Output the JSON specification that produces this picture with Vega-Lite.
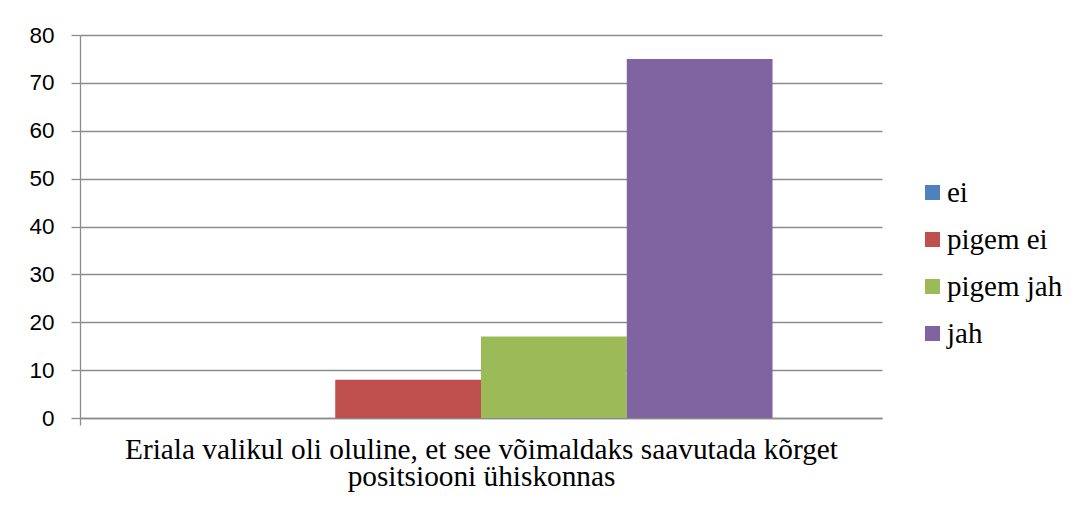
{
  "$schema": "https://vega.github.io/schema/vega-lite/v6.json",
  "width": 802,
  "height": 383,
  "autosize": {"type": "none"},
  "padding": {"left": 80, "top": 35, "right": 202, "bottom": 96},
  "background": "white",
  "data": {
    "values": [
      {"kategooria": "Eriala valikul oli oluline, et see võimaldaks saavutada kõrget positsiooni ühiskonnas", "vastus": "ei", "protsent": 0},
      {"kategooria": "Eriala valikul oli oluline, et see võimaldaks saavutada kõrget positsiooni ühiskonnas", "vastus": "pigem ei", "protsent": 8},
      {"kategooria": "Eriala valikul oli oluline, et see võimaldaks saavutada kõrget positsiooni ühiskonnas", "vastus": "pigem jah", "protsent": 17},
      {"kategooria": "Eriala valikul oli oluline, et see võimaldaks saavutada kõrget positsiooni ühiskonnas", "vastus": "jah", "protsent": 75}
    ]
  },
  "mark": {"type": "bar"},
  "encoding": {
    "x": {
      "field": "kategooria",
      "type": "nominal",
      "scale": {"paddingInner": 0, "paddingOuter": 0},
      "axis": {
        "labels": false,
        "title": ["Eriala valikul oli oluline, et see võimaldaks saavutada kõrget", "positsiooni ühiskonnas"],
        "titleFont": "Liberation Serif",
        "titleFontSize": 29.3,
        "titleFontWeight": "normal",
        "titleColor": "black",
        "titleLineHeight": 27,
        "titlePadding": 10,
        "domainColor": "#8c8c8c",
        "domainWidth": 1.3,
        "tickColor": "#8c8c8c",
        "tickSize": 7,
        "tickWidth": 1.3,
        "bandPosition": 0
      }
    },
    "xOffset": {
      "field": "vastus",
      "type": "nominal",
      "sort": ["ei", "pigem ei", "pigem jah", "jah"],
      "scale": {"paddingInner": 0, "paddingOuter": 0.751}
    },
    "y": {
      "field": "protsent",
      "type": "quantitative",
      "scale": {"domain": [0, 80], "nice": false},
      "axis": {
        "title": null,
        "values": [0, 10, 20, 30, 40, 50, 60, 70, 80],
        "labelFont": "Liberation Sans",
        "labelFontSize": 22.5,
        "labelColor": "black",
        "labelPadding": 17,
        "tickSize": 9,
        "tickColor": "#8c8c8c",
        "tickWidth": 1.3,
        "domainColor": "#8c8c8c",
        "domainWidth": 1.3,
        "gridColor": "#8c8c8c",
        "gridWidth": 1.3
      }
    },
    "color": {
      "field": "vastus",
      "type": "nominal",
      "sort": ["ei", "pigem ei", "pigem jah", "jah"],
      "scale": {
        "domain": ["ei", "pigem ei", "pigem jah", "jah"],
        "range": ["#4F81BD", "#C0504D", "#9BBB59", "#8064A2"]
      },
      "legend": {
        "title": null,
        "orient": "none",
        "legendX": 838,
        "legendY": 143,
        "symbolType": "square",
        "symbolSize": 225,
        "symbolStrokeWidth": 0,
        "labelFont": "Liberation Serif",
        "labelFontSize": 29,
        "labelColor": "black",
        "labelOffset": 0,
        "rowPadding": 17,
        "labelLimit": 300
      }
    }
  },
  "config": {
    "view": {"stroke": null}
  }
}
